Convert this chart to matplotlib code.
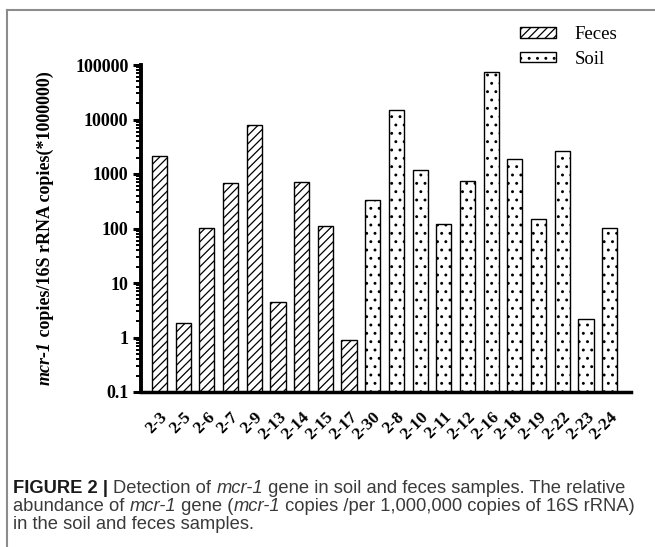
import numpy as np
import matplotlib
matplotlib.use('Agg')
import matplotlib.pyplot as plt
from matplotlib.transforms import IdentityTransform
from matplotlib.lines import Line2D

feces_samples = ['2-3', '2-5', '2-6', '2-7', '2-9', '2-13', '2-14', '2-15', '2-17']
feces_values = [2100, 1.75, 100, 680, 7800, 4.4, 700, 110, 0.79]
soil_samples = ['2-30', '2-8', '2-10', '2-11', '2-12', '2-16', '2-18', '2-19', '2-22', '2-23', '2-24']
soil_values = [340, 15000, 1200, 120, 730, 74000, 1850, 150, 2600, 2.05, 100]
y_ticks = [0.1, 1, 10, 100, 1000, 10000, 100000]
y_ticklabels = ['0.1', '1', '10', '100', '1000', '10000', '100000']

W, H = 655, 547
plt.rcParams['font.family'] = ['Liberation Serif', 'DejaVu Serif']
plt.rcParams['hatch.linewidth'] = 0.9

fig = plt.figure(figsize=(W / 100, H / 100), dpi=100)
ax = fig.add_axes([141 / W, 1 - 392 / H, (631 - 141) / W, (392 - 65) / H])

x_feces = np.arange(len(feces_samples))
x_soil = np.arange(len(soil_samples)) + len(feces_samples)
bw = 0.64
ax.bar(x_feces, feces_values, bw, bottom=0.1, color='white', edgecolor='black',
       linewidth=1.0, hatch='////', label='Feces')
ax.bar(x_soil, soil_values, bw, bottom=0.1, color='white', edgecolor='black',
       linewidth=1.0, hatch='..', label='Soil')

ax.set_yscale('log')
ax.set_ylim(0.1, 100000)
ax.set_xlim(-0.78, 19.9)
ax.set_yticks(y_ticks)
ax.set_yticklabels(y_ticklabels, fontweight='bold', fontsize=13)
ax.set_xticks(np.concatenate([x_feces, x_soil]))
ax.set_xticklabels(feces_samples + soil_samples, fontweight='bold', fontsize=12.5,
                   rotation=45, ha='right', va='top', rotation_mode='anchor')
ax.tick_params(axis='y', which='major', length=6, width=2.2, pad=3)
ax.tick_params(axis='y', which='minor', length=3.5, width=1.4)
ax.tick_params(axis='x', length=0, pad=12)
for s in ['top', 'right']:
    ax.spines[s].set_visible(False)
ax.spines['left'].set_linewidth(2.8)
ax.spines['bottom'].set_linewidth(2.5)

leg = fig.legend(loc='upper left', bbox_to_anchor=(520 / W, 1 - 26 / H), frameon=False,
                 borderpad=0, borderaxespad=0, handlelength=1.9, handleheight=0.5,
                 handletextpad=1.0, labelspacing=0.4,
                 prop={'family': 'Liberation Serif', 'size': 13.5})

# figure frame lines
fig.add_artist(Line2D([7 / W, 1], [1 - 9.5 / H, 1 - 9.5 / H], color='#8c8c8c', lw=1.5,
                      transform=fig.transFigure))
fig.add_artist(Line2D([7 / W, 7 / W], [0, 1 - 9.5 / H], color='#8c8c8c', lw=1.5,
                      transform=fig.transFigure))

fig.canvas.draw()
renderer = fig.canvas.get_renderer()


def text_width(s, **kw):
    # measure with bars around so spaces count
    t1 = fig.text(0, 0, '|' + s + '|', **kw)
    t2 = fig.text(0, 0, '||', **kw)
    w = t1.get_window_extent(renderer).width - t2.get_window_extent(renderer).width
    t1.remove()
    t2.remove()
    return w


def put_runs(x, y, runs, vertical=False):
    for s, kw in runs:
        if vertical:
            fig.text(x, y, s, transform=IdentityTransform(), rotation=90,
                     rotation_mode='anchor', ha='left', va='center', **kw)
        else:
            fig.text(x, y, s, transform=IdentityTransform(), ha='left', va='baseline', **kw)
        w = text_width(s, **kw)
        if vertical:
            y += w
        else:
            x += w


# y label with italic gene name
lab_b = dict(family='Liberation Serif', fontweight='bold', fontsize=13)
lab_i = dict(family='Liberation Serif', fontweight='bold', style='italic', fontsize=13)
ylab_runs = [('mcr-1', lab_i), (' copies/16S rRNA copies(*1000000)', lab_b)]
total = sum(text_width(s, **kw) for s, kw in ylab_runs)
put_runs(45, (H - 228.5) - total / 2, ylab_runs, vertical=True)

# caption
cap_fs = 10
line2_plain = 'abundance of mcr-1 gene (mcr-1 copies /per 1,000,000 copies of 16S rRNA)'
w_test = text_width(line2_plain, family='Liberation Sans', fontsize=cap_fs)
cap_fs = cap_fs * 624 / w_test
col = '#3a3a3a'
reg = dict(family='Liberation Sans', fontsize=cap_fs, color=col)
it = dict(family='Liberation Sans', fontsize=cap_fs, color=col, style='italic')
bold = dict(family='Liberation Sans', fontsize=cap_fs, color='#1a1a1a', fontweight='bold')
put_runs(13, H - 493, [('FIGURE 2 | ', bold), ('Detection of ', reg), ('mcr-1', it),
                       (' gene in soil and feces samples. The relative', reg)])
put_runs(13, H - 511, [('abundance of ', reg), ('mcr-1', it), (' gene (', reg), ('mcr-1', it),
                       (' copies /per 1,000,000 copies of 16S rRNA)', reg)])
put_runs(13, H - 529, [('in the soil and feces samples.', reg)])

fig.savefig('out.png', dpi=100)
